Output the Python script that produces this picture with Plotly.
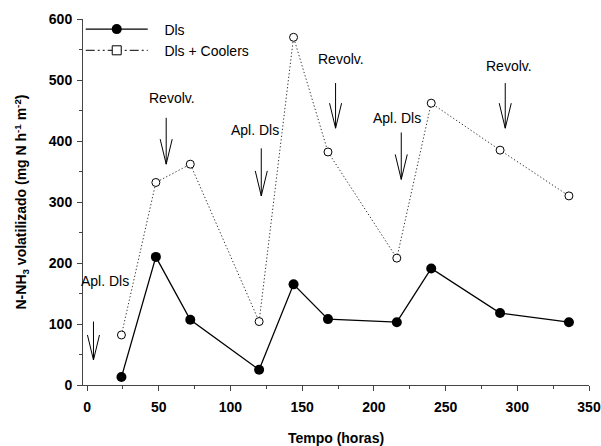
import plotly.graph_objects as go

# ---- data ----
tempo = [24, 48, 72, 120, 144, 168, 216, 240, 288, 336]
dls = [13, 210, 107, 25, 165, 108, 103, 191, 118, 103]
dls_coolers = [82, 332, 362, 104, 570, 382, 208, 462, 385, 310]

event_labels = ["Apl. Dls", "Revolv.", "Apl. Dls", "Revolv.", "Apl. Dls", "Revolv."]
event_x = [4.5, 55.2, 121.5, 173.3, 219.1, 291.6]
arrow_top = [104, 438, 388, 495, 414, 495]
arrow_bottom = [41, 362, 310, 421, 337, 421]
label_x = [12.7, 59, 117, 177, 216, 294]
label_y = [170, 470, 418, 534, 437, 523]

x_ticks = [0, 50, 100, 150, 200, 250, 300, 350]
y_ticks = [0, 100, 200, 300, 400, 500, 600]

FONT = "Liberation Sans, Arial, sans-serif"
AXC = "#444444"
PAD = "&nbsp;&nbsp;&nbsp;"

fig = go.Figure()

fig.add_trace(go.Scatter(
    x=tempo, y=dls, name=PAD + "Dls", mode="lines+markers",
    line=dict(color="black", width=1.3),
    marker=dict(symbol="circle", size=10, color="black"),
))
fig.add_trace(go.Scatter(
    x=tempo, y=dls_coolers, name="Dls + Coolers", mode="lines+markers",
    line=dict(color="#333333", width=1, dash="1.3px,2.2px"),
    marker=dict(symbol="circle", size=8, color="white",
                line=dict(color="black", width=1)),
    showlegend=False,
))
# legend entry as drawn in the original (dash-dot-dot with open square)
fig.add_trace(go.Scatter(
    x=[None], y=[None], name=PAD + "Dls + Coolers", mode="lines+markers",
    line=dict(color="black", width=1, dash="9px,3px,2px,3px,2px,3px"),
    marker=dict(symbol="square", size=9, color="white",
                line=dict(color="black", width=1)),
))

# event arrows (open V heads)
HW = 4.2   # half width of arrow head (x units)
HH = 41    # height of arrow head (y units)
for xe, yt, yb in zip(event_x, arrow_top, arrow_bottom):
    path = (f"M {xe},{yt} L {xe},{yb} "
            f"M {xe-HW},{yb+HH} L {xe},{yb} L {xe+HW},{yb+HH}")
    fig.add_shape(type="path", path=path, xref="x", yref="y",
                  line=dict(color="black", width=1))

for txt, lx, ly in zip(event_labels, label_x, label_y):
    fig.add_annotation(x=lx, y=ly, text=txt, showarrow=False,
                       xanchor="center", yanchor="middle",
                       font=dict(family=FONT, size=14, color="black"))

fig.update_layout(
    width=601, height=446,
    margin=dict(l=83, r=12, t=19, b=61),
    paper_bgcolor="white", plot_bgcolor="white",
    font=dict(family=FONT, size=14, color="black"),
    showlegend=True,
    legend=dict(x=-0.0045, y=1.015, xanchor="left", yanchor="top",
                bgcolor="rgba(0,0,0,0)", itemwidth=62,
                font=dict(family=FONT, size=14), tracegroupgap=0),
    xaxis=dict(
        range=[-2.8, 350], tickvals=x_ticks, ticks="outside", ticklen=5,
        tickcolor=AXC, showline=True, linecolor=AXC, linewidth=1,
        showgrid=False, zeroline=False, ticklabelstandoff=4, automargin=False,
        tickfont=dict(family=FONT, size=14, color="black", weight="bold"),
        minor=dict(dtick=25, tick0=0, ticks="outside", ticklen=3, tickcolor=AXC),
        title=dict(text="<b>Tempo (horas)</b>", standoff=22,
                   font=dict(family=FONT, size=14)),
    ),
    yaxis=dict(
        range=[0, 600], tickvals=y_ticks, ticks="outside", ticklen=5,
        tickcolor=AXC, showline=True, linecolor=AXC, linewidth=1,
        showgrid=False, zeroline=False, ticklabelstandoff=2, automargin=False,
        tickfont=dict(family=FONT, size=14, color="black", weight="bold"),
        minor=dict(dtick=50, tick0=0, ticks="outside", ticklen=3, tickcolor=AXC),
        title=dict(text="<b>N-NH<sub>3</sub> volatilizado (mg N h<sup>-1</sup> m<sup>-2</sup>)</b>",
                   standoff=18, font=dict(family=FONT, size=14)),
    ),
)

fig.write_html("out.html",
               config={"displayModeBar": False},
               post_script="document.body.style.margin='0';"
                           "document.body.style.overflow='hidden';")
